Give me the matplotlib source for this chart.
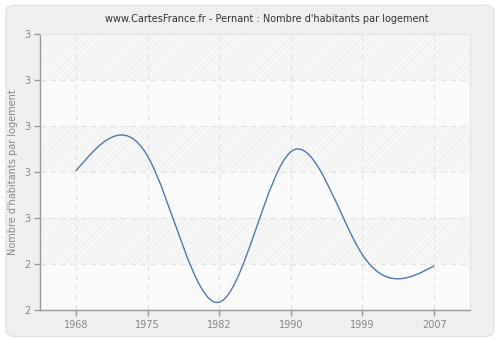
import numpy as np
import matplotlib
matplotlib.use("Agg")
import matplotlib.pyplot as plt
from matplotlib.path import Path
from matplotlib.patches import PathPatch, FancyBboxPatch

years = ["1968", "1975", "1982", "1990", "1999", "2007"]
values = [2.602, 2.635, 2.317, 2.644, 2.420, 2.396]
y_ticks = [2.3, 2.4, 2.5, 2.6, 2.7, 2.8, 2.9]
y_tick_labels = ["2", "2", "3", "3", "3", "3", "3"]
title = "www.CartesFrance.fr - Pernant : Nombre d'habitants par logement"
ylabel = "Nombre d'habitants par logement"

plt.rcParams["hatch.linewidth"] = 0.6

fig = plt.figure(figsize=(5, 3.4), dpi=100)
fig.patch.set_facecolor("white")
fig.patches.append(FancyBboxPatch((0.012, 0.01), 0.976, 0.975,
                                  boxstyle="round,pad=0,rounding_size=0.02",
                                  transform=fig.transFigure, facecolor="#efefef",
                                  edgecolor="#e4e4e4", linewidth=1.0, zorder=-10))

ax = fig.add_axes([0.08, 0.0882, 0.86, 0.8118])
ax.set_facecolor("#fafafa")
x = np.arange(len(years))
ax.set_xlim(-0.5, len(years) - 0.5)
ax.set_ylim(y_ticks[0], y_ticks[-1])

# alternating hatched bands
for i in range(len(y_ticks) - 1):
    if (len(y_ticks) - 2 - i) % 2 == 0:
        ax.axhspan(y_ticks[i], y_ticks[i + 1], facecolor="#f8f8f8",
                   edgecolor="#ededed", hatch="//////", linewidth=0, zorder=0)

# natural cubic spline derivatives (rendering of a smooth curve via Bezier path)
n = len(values)
yv = np.array(values, dtype=float)
A = np.zeros((n, n)); b = np.zeros(n)
A[0, 0], A[0, 1] = 2, 1; b[0] = 3 * (yv[1] - yv[0])
A[-1, -2], A[-1, -1] = 1, 2; b[-1] = 3 * (yv[-1] - yv[-2])
for i in range(1, n - 1):
    A[i, i - 1], A[i, i], A[i, i + 1] = 1, 4, 1
    b[i] = 3 * (yv[i + 1] - yv[i - 1])
m = np.linalg.solve(A, b)
verts = [(x[0], yv[0])]
codes = [Path.MOVETO]
for i in range(n - 1):
    verts += [(x[i] + 1 / 3, yv[i] + m[i] / 3),
              (x[i + 1] - 1 / 3, yv[i + 1] - m[i + 1] / 3),
              (x[i + 1], yv[i + 1])]
    codes += [Path.CURVE4] * 3
ax.add_patch(PathPatch(Path(verts, codes), facecolor="none",
                       edgecolor="#4f79ae", linewidth=1.0, zorder=3))

ax.set_xticks(x)
ax.set_xticklabels(years)
ax.set_yticks(y_ticks)
ax.set_yticklabels(y_tick_labels)
ax.grid(True, color="#e2e2e2", linestyle=(0, (5, 4)), linewidth=0.8, zorder=1)
ax.set_axisbelow(True)

for s in ["top", "right"]:
    ax.spines[s].set_color("#e4e4e4")
    ax.spines[s].set_linewidth(0.8)
for s in ["left", "bottom"]:
    ax.spines[s].set_color("#999999")
    ax.spines[s].set_linewidth(1.0)
ax.tick_params(axis="both", colors="#999999", labelcolor="#888888",
               labelsize=7, length=4, width=1)
ax.tick_params(axis="y", pad=3)
ax.set_ylabel(ylabel, color="#888888", fontsize=7, labelpad=4)
fig.text(0.534, 0.945, title, ha="center", va="center", fontsize=7, color="#333333")

fig.savefig("out.png", dpi=100, facecolor=fig.get_facecolor())
